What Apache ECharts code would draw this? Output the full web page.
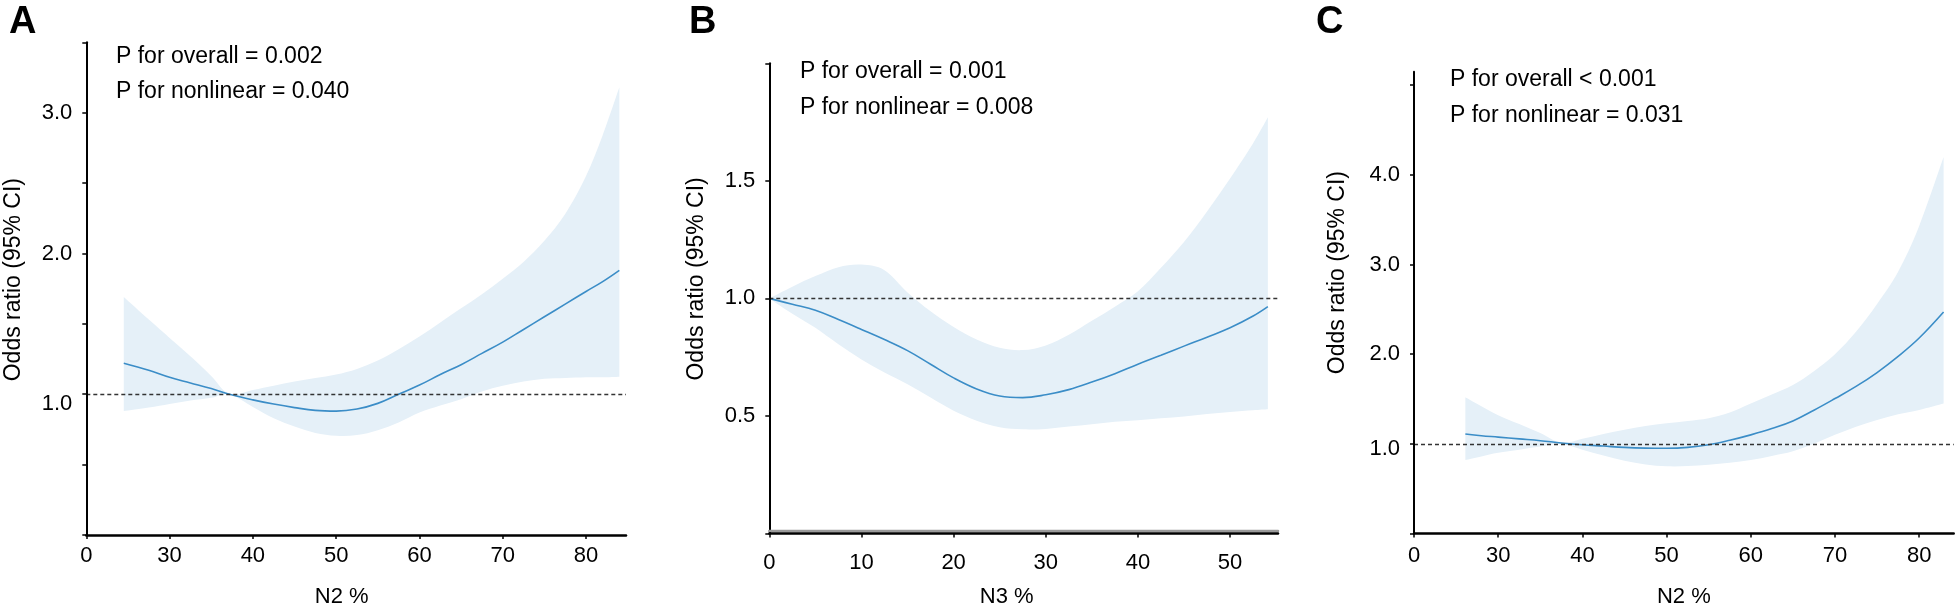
<!DOCTYPE html>
<html>
<head>
<meta charset="utf-8">
<script src="https://cdn.jsdelivr.net/npm/echarts@6/dist/echarts.min.js"></script>
<style>
html,body{margin:0;padding:0;background:#ffffff;}
#chart{width:1955px;height:613px;}
</style>
</head>
<body>
<div id="chart"></div>
<script>
// ---------- Panel A : N2 % ----------
const xA     = [24.5, 27.5, 30, 32.5, 35, 37.2, 40, 42.5, 45, 47.5, 50, 52.5, 55, 57.5, 60, 62.5, 65, 67.5, 70, 72.5, 75, 77.5, 80, 82, 84];
const orA    = [1.22, 1.17, 1.12, 1.08, 1.04, 1.0, 0.96, 0.93, 0.905, 0.885, 0.88, 0.895, 0.935, 1.0, 1.065, 1.14, 1.21, 1.29, 1.37, 1.46, 1.55, 1.64, 1.73, 1.80, 1.88];
const upperA = [1.69, 1.53, 1.40, 1.27, 1.13, 1.0, 1.03, 1.06, 1.09, 1.115, 1.14, 1.18, 1.24, 1.32, 1.41, 1.51, 1.61, 1.71, 1.82, 1.94, 2.09, 2.28, 2.55, 2.84, 3.18];
const lowerA = [0.88, 0.905, 0.93, 0.955, 0.975, 1.0, 0.91, 0.83, 0.77, 0.725, 0.705, 0.71, 0.745, 0.80, 0.87, 0.92, 0.965, 1.02, 1.06, 1.09, 1.11, 1.115, 1.12, 1.12, 1.125];

// ---------- Panel B : N3 % ----------
const xB     = [0, 2.5, 5, 7.5, 10, 12.5, 15, 17.5, 20, 22.5, 25, 27.5, 30, 32.5, 35, 37.5, 40, 42.5, 45, 47.5, 50, 52.5, 54.1];
const orB    = [1.0, 0.975, 0.95, 0.91, 0.868, 0.825, 0.778, 0.72, 0.662, 0.615, 0.585, 0.578, 0.59, 0.612, 0.644, 0.68, 0.72, 0.758, 0.797, 0.835, 0.875, 0.925, 0.965];
const upperB = [1.0, 1.05, 1.095, 1.133, 1.144, 1.12, 1.025, 0.945, 0.878, 0.825, 0.79, 0.78, 0.80, 0.845, 0.905, 0.965, 1.03, 1.13, 1.24, 1.37, 1.51, 1.66, 1.77];
const lowerB = [1.0, 0.935, 0.875, 0.805, 0.74, 0.685, 0.635, 0.578, 0.522, 0.48, 0.452, 0.443, 0.445, 0.455, 0.465, 0.475, 0.482, 0.49, 0.498, 0.508, 0.517, 0.524, 0.528];

// ---------- Panel C : N2 % ----------
const xC     = [26.1, 28, 30, 32.5, 35, 37.5, 40, 42.5, 45, 47.5, 50, 52.5, 55, 57.5, 60, 62.5, 65, 67.5, 70, 72.5, 75, 77.5, 80, 82.9];
const orC    = [1.11, 1.09, 1.075, 1.055, 1.035, 1.01, 0.99, 0.975, 0.96, 0.952, 0.95, 0.96, 0.99, 1.04, 1.10, 1.17, 1.255, 1.375, 1.505, 1.64, 1.795, 1.975, 2.18, 2.47];
const upperC = [1.52, 1.42, 1.32, 1.22, 1.12, 1.01, 1.057, 1.11, 1.157, 1.2, 1.23, 1.255, 1.286, 1.35, 1.45, 1.55, 1.655, 1.81, 2.0, 2.25, 2.56, 2.92, 3.43, 4.2];
const lowerC = [0.82, 0.86, 0.90, 0.935, 0.97, 1.0, 0.935, 0.87, 0.81, 0.77, 0.75, 0.752, 0.768, 0.79, 0.82, 0.865, 0.917, 1.0, 1.10, 1.19, 1.267, 1.33, 1.378, 1.45];

// ---------- Axis ticks & labels ----------
const xTicksA  = [20, 30, 40, 50, 60, 70, 80];
const xLabelsA = ['0', '30', '40', '50', '60', '70', '80'];
const xTicksB  = [0, 10, 20, 30, 40, 50];
const xLabelsB = ['0', '10', '20', '30', '40', '50'];
const xTicksC  = [20, 30, 40, 50, 60, 70, 80];
const xLabelsC = ['0', '30', '40', '50', '60', '70', '80'];

const yTicksA  = [0, 0.5, 1, 1.5, 2, 2.5, 3, 3.5];
const yLabelsA = [1, 2, 3];
const yTicksB  = [0, 0.5, 1, 1.5, 2];
const yLabelsB = [0.5, 1, 1.5];
const yTicksC  = [0, 1, 2, 3, 4, 5];
const yLabelsC = [1, 2, 3, 4];

const panelLetters = ['A', 'B', 'C'];
const xNames = ['N2 %', 'N3 %', 'N2 %'];
const yName = 'Odds ratio (95% CI)';
const pTexts = [
  ['P for overall = 0.002', 'P for nonlinear = 0.040'],
  ['P for overall = 0.001', 'P for nonlinear = 0.008'],
  ['P for overall < 0.001', 'P for nonlinear = 0.031']
];

const FONT = '"Liberation Sans", Arial, Helvetica, sans-serif';
const LINE_COLOR = '#3b8dc7';
const BAND_COLOR = '#e5f0f8';

function pairs(xs, ys) { return xs.map((x, i) => [x, ys[i]]); }

const grids = [
  { left: 86.3,  top: 42.3, width: 539.7, height: 495 },
  { left: 769.3, top: 63.3, width: 508.7, height: 472.7 },
  { left: 1414,  top: 71.7, width: 539.7, height: 464.3 }
];

function xAxisCfg(g, min, max, ticks, labels, labelMargin, nameGap, namePad, shadow) {
  const ls = { color: '#000', width: 2.5 };
  if (shadow) { ls.shadowColor = '#9a9a9a'; ls.shadowOffsetY = -2.5; }
  return {
    type: 'value', gridIndex: g, min: min, max: max, z: 10,
    axisLine: { show: true, onZero: false, lineStyle: ls },
    axisTick: { show: true, length: 4, customValues: ticks, lineStyle: { color: '#000', width: 1.5 } },
    axisLabel: {
      customValues: ticks, margin: labelMargin, color: '#000', fontSize: 22, fontFamily: FONT,
      formatter: function (v) { const i = ticks.indexOf(v); return i >= 0 ? labels[i] : ''; }
    },
    splitLine: { show: false },
    name: xNames[g], nameLocation: 'middle', nameGap: nameGap,
    nameTextStyle: { fontSize: 22, fontFamily: FONT, color: '#000', padding: namePad }
  };
}

function yAxisCfg(g, max, ticks, labels, lowPad, nameGap, namePad) {
  return {
    type: 'value', gridIndex: g, min: 0, max: max, z: 10,
    axisLine: { show: true, onZero: false, lineStyle: { color: '#000', width: 2 } },
    axisTick: { show: true, length: 4, customValues: ticks, lineStyle: { color: '#000', width: 1.5 } },
    axisLabel: {
      customValues: labels, margin: 14, color: '#000', fontSize: 22, fontFamily: FONT,
      formatter: function (v) { return (v === 1 && lowPad > 0) ? '{low|1.0}' : v.toFixed(1); },
      rich: { low: { fontSize: 22, fontFamily: FONT, color: '#000', padding: [lowPad, 0, 0, 0] } }
    },
    splitLine: { show: false },
    name: yName, nameLocation: 'middle', nameGap: nameGap, nameRotate: 90,
    nameTextStyle: { fontSize: 23, fontFamily: FONT, color: '#000', padding: namePad }
  };
}

// smooth path through projected points (Catmull-Rom -> cubic Bezier)
function curveThrough(p) {
  let s = '';
  for (let i = 0; i < p.length - 1; i++) {
    const p0 = p[i - 1] || p[i], p1 = p[i], p2 = p[i + 1], p3 = p[i + 2] || p[i + 1];
    const c1x = p1[0] + (p2[0] - p0[0]) / 6, c1y = p1[1] + (p2[1] - p0[1]) / 6;
    const c2x = p2[0] - (p3[0] - p1[0]) / 6, c2y = p2[1] - (p3[1] - p1[1]) / 6;
    s += ' C' + c1x + ' ' + c1y + ' ' + c2x + ' ' + c2y + ' ' + p2[0] + ' ' + p2[1];
  }
  return s;
}

function bandSeries(g, xs, ups, los) {
  return {
    type: 'custom', xAxisIndex: g, yAxisIndex: g, data: [[xs[0], ups[0]]], silent: true, z: 1,
    renderItem: function (params, api) {
      const up = xs.map((x, i) => api.coord([x, ups[i]]));
      const lo = xs.map((x, i) => api.coord([x, los[i]])).reverse();
      const d = 'M' + up[0][0] + ' ' + up[0][1] + curveThrough(up) +
                ' L' + lo[0][0] + ' ' + lo[0][1] + curveThrough(lo) + ' Z';
      return { type: 'path', shape: { pathData: d }, style: { fill: BAND_COLOR, stroke: null } };
    }
  };
}

function panelSeries(g, xs, ors, ups, los) {
  return [
    bandSeries(g, xs, ups, los),
    { type: 'line', xAxisIndex: g, yAxisIndex: g, data: pairs(xs, ors), smooth: 0.4, symbol: 'none',
      lineStyle: { color: LINE_COLOR, width: 1.6 }, z: 3, silent: true,
      markLine: { silent: true, symbol: ['none', 'none'], label: { show: false },
        lineStyle: { color: '#333', width: 1.3, type: [4, 3] }, data: [{ yAxis: 1 }] } }
  ];
}

const graphics = [];
const letterPos = [[9, 22.5], [689, 22.5], [1316, 22.5]];
letterPos.forEach((p, i) => {
  graphics.push({ type: 'text', x: p[0], y: p[1],
    style: { text: panelLetters[i], font: 'bold 38px ' + FONT, fill: '#000', textAlign: 'left', textVerticalAlign: 'middle' } });
});
const pPos = [[116, 56.3, 91.7], [800, 71.7, 107.5], [1450, 79.5, 115.8]];
pPos.forEach((p, i) => {
  graphics.push({ type: 'text', x: p[0], y: p[1],
    style: { text: pTexts[i][0], font: '23px ' + FONT, fill: '#000', textAlign: 'left', textVerticalAlign: 'middle' } });
  graphics.push({ type: 'text', x: p[0], y: p[2],
    style: { text: pTexts[i][1], font: '23px ' + FONT, fill: '#000', textAlign: 'left', textVerticalAlign: 'middle' } });
});

const option = {
  backgroundColor: '#ffffff',
  animation: false,
  grid: grids,
  xAxis: [
    xAxisCfg(0, 20, 84.8, xTicksA, xLabelsA, 10, 51, [0, 29, 0, 0], false),
    xAxisCfg(1, 0, 55.2, xTicksB, xLabelsB, 18, 52.5, [0, 34, 0, 0], true),
    xAxisCfg(2, 20, 84.1, xTicksC, xLabelsC, 11, 52.5, [0, 0, 0, 0], false)
  ],
  yAxis: [
    yAxisCfg(0, 3.5, yTicksA, yLabelsA, 20, 61, [0, 0, 0, 18]),
    yAxisCfg(1, 2.0, yTicksB, yLabelsB, 0, 61, [0, 0, 0, 39]),
    yAxisCfg(2, 5.15, yTicksC, yLabelsC, 10, 65, [0, 0, 0, 60])
  ],
  series: [].concat(
    panelSeries(0, xA, orA, upperA, lowerA),
    panelSeries(1, xB, orB, upperB, lowerB),
    panelSeries(2, xC, orC, upperC, lowerC)
  ),
  graphic: graphics
};

const chart = echarts.init(document.getElementById('chart'), null, { renderer: 'canvas' });
chart.setOption(option);
</script>
</body>
</html>
